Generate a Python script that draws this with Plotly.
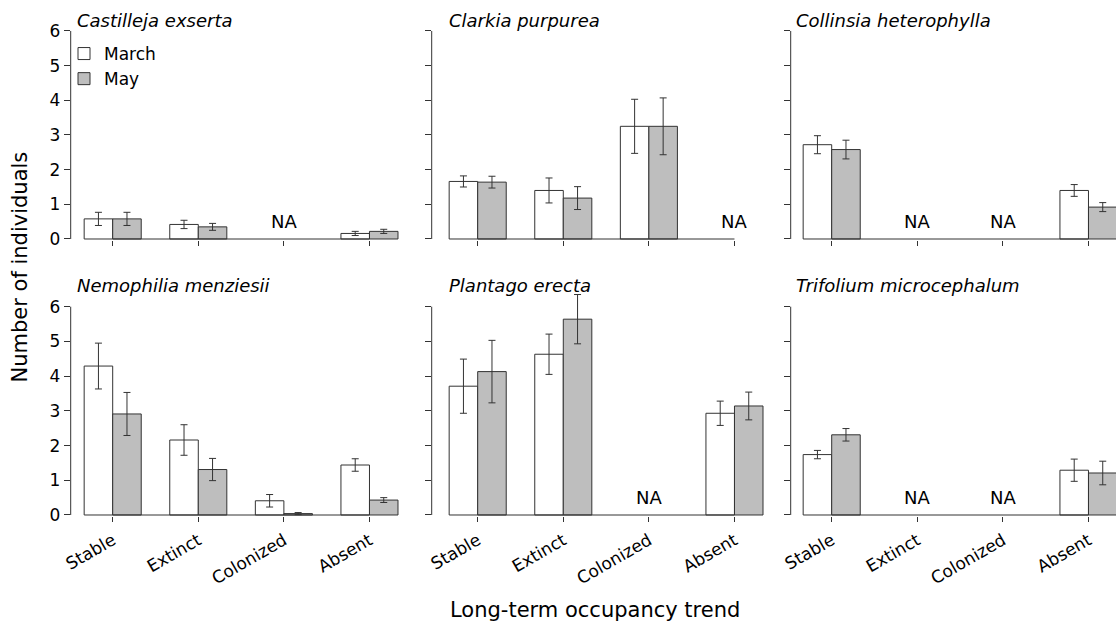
import plotly.graph_objects as go

W, H = 1116, 625
FONT = "DejaVu Sans"

categories = ["Stable", "Extinct", "Colonized", "Absent"]
species = ["Castilleja exserta", "Clarkia purpurea", "Collinsia heterophylla",
           "Nemophilia menziesii", "Plantago erecta", "Trifolium microcephalum"]

castilleja_march = [0.58, 0.42, None, 0.16]
castilleja_march_se = [0.19, 0.12, None, 0.06]
castilleja_may = [0.58, 0.35, None, 0.22]
castilleja_may_se = [0.19, 0.10, None, 0.06]

clarkia_march = [1.66, 1.40, 3.25, None]
clarkia_march_se = [0.16, 0.36, 0.78, None]
clarkia_may = [1.64, 1.18, 3.25, None]
clarkia_may_se = [0.17, 0.33, 0.82, None]

collinsia_march = [2.72, None, None, 1.40]
collinsia_march_se = [0.26, None, None, 0.17]
collinsia_may = [2.58, None, None, 0.92]
collinsia_may_se = [0.27, None, None, 0.13]

nemophilia_march = [4.29, 2.16, 0.41, 1.44]
nemophilia_march_se = [0.66, 0.44, 0.18, 0.18]
nemophilia_may = [2.91, 1.31, 0.04, 0.43]
nemophilia_may_se = [0.62, 0.32, 0.03, 0.07]

plantago_march = [3.71, 4.63, None, 2.93]
plantago_march_se = [0.78, 0.58, None, 0.35]
plantago_may = [4.13, 5.64, None, 3.14]
plantago_may_se = [0.90, 0.71, None, 0.40]

trifolium_march = [1.74, None, None, 1.29]
trifolium_march_se = [0.12, None, None, 0.32]
trifolium_may = [2.31, None, None, 1.21]
trifolium_may_se = [0.18, None, None, 0.34]

y_ticks = [0, 1, 2, 3, 4, 5, 6]

panels = [
    (castilleja_march, castilleja_march_se, castilleja_may, castilleja_may_se),
    (clarkia_march, clarkia_march_se, clarkia_may, clarkia_may_se),
    (collinsia_march, collinsia_march_se, collinsia_may, collinsia_may_se),
    (nemophilia_march, nemophilia_march_se, nemophilia_may, nemophilia_may_se),
    (plantago_march, plantago_march_se, plantago_may, plantago_may_se),
    (trifolium_march, trifolium_march_se, trifolium_may, trifolium_may_se),
]

# ---- geometry (pixels) ----
col_left = [70.7, 431.7, 790.7]
col_right = [411.0, 775.0, 1116.0]
col_first_tick = [112.7, 477.7, 831.7]
px_per_unit = 28.53
row_zero = [239.0, 515.0]
row_ppu = [34.67, 34.72]
YMIN, YMAX = -0.03, 6.6
title_x = [74.5, 446.5, 794.0]
title_y = [21.0, 285.0]

centers = [2 + 3 * i for i in range(len(categories))]
march_x = [c - 0.5 for c in centers]
may_x = [c + 0.5 for c in centers]

LINE = "#333333"
MAY_FILL = "#bebebe"

fig = go.Figure()
layout = dict(
    width=W, height=H, margin=dict(l=0, r=0, t=0, b=0, autoexpand=False),
    paper_bgcolor="white", plot_bgcolor="white",
    barmode="overlay", font=dict(family=FONT, color="black"),
    showlegend=True,
)
shapes = []
annotations = []

for k, (m, mse, y, yse) in enumerate(panels):
    r, c = divmod(k, 3)
    s = "" if k == 0 else str(k + 1)
    xa, ya = "x" + s, "y" + s
    r0 = 2 - (col_first_tick[c] - col_left[c]) / px_per_unit
    r1 = 2 + (col_right[c] - col_first_tick[c]) / px_per_unit
    ybot = row_zero[r] - YMIN * row_ppu[r]
    ytop = row_zero[r] - YMAX * row_ppu[r]

    for name, xs, vals, se, fill in (("March", march_x, m, mse, "white"),
                                     ("May", may_x, y, yse, MAY_FILL)):
        fig.add_trace(go.Bar(
            x=xs, y=vals, width=1, name=name, legendgroup=name,
            showlegend=(k == 0),
            marker=dict(color=fill, line=dict(color=LINE, width=1)),
            error_y=dict(type="data", array=se, visible=True, color=LINE,
                         thickness=1, width=3.5),
            xaxis=xa, yaxis=ya, hoverinfo="skip",
        ))

    layout["xaxis" + s] = dict(
        domain=[col_left[c] / W, col_right[c] / W], range=[r0, r1],
        anchor=ya, tickmode="array", tickvals=centers,
        ticktext=categories, showticklabels=(r == 1),
        ticks="outside", ticklen=5, tickwidth=1, tickcolor=LINE,
        tickangle=-30, ticklabelstandoff=2, automargin=False,
        tickfont=dict(family=FONT, size=17, color="black"),
        showgrid=False, zeroline=False, showline=False, fixedrange=True,
    )
    layout["yaxis" + s] = dict(
        domain=[1 - ybot / H, 1 - ytop / H], range=[YMIN, YMAX],
        anchor=xa, tickmode="array", tickvals=y_ticks, automargin=False,
        showticklabels=(c == 0), ticks="outside", ticklen=6, tickwidth=1,
        tickcolor=LINE, tickfont=dict(family=FONT, size=17, color="black"),
        showgrid=False, zeroline=False, showline=False, fixedrange=True,
    )

    yf0 = (0 - YMIN) / (YMAX - YMIN)
    yf6 = (y_ticks[-1] - YMIN) / (YMAX - YMIN)
    shapes.append(dict(type="line", xref=xa + " domain", yref=ya + " domain",
                       x0=0, x1=0, y0=yf0, y1=yf6,
                       line=dict(color=LINE, width=1)))
    shapes.append(dict(type="line", xref=xa + " domain", yref=ya + " domain",
                       x0=(centers[0] - r0) / (r1 - r0),
                       x1=(centers[-1] - r0) / (r1 - r0),
                       y0=yf0, y1=yf0, line=dict(color=LINE, width=1)))

    annotations.append(dict(text="<i>" + species[k] + "</i>", xref="paper",
                            yref="paper", x=title_x[c] / W,
                            y=1 - title_y[r] / H,
                            xanchor="left", yanchor="middle", showarrow=False,
                            font=dict(family=FONT, size=18, color="black")))

    for i, cx in enumerate(centers):
        if m[i] is None and y[i] is None:
            annotations.append(dict(text="NA", xref=xa, yref=ya, x=cx, y=0.5,
                                    xanchor="center", yanchor="middle",
                                    showarrow=False,
                                    font=dict(family=FONT, size=18,
                                              color="black")))

annotations.append(dict(text="Number of individuals", xref="paper", yref="paper",
                        x=20 / W, y=1 - 267.5 / H, textangle=-90,
                        xanchor="center", yanchor="middle", showarrow=False,
                        font=dict(family=FONT, size=21, color="black")))
annotations.append(dict(text="Long-term occupancy trend", xref="paper",
                        yref="paper", x=595 / W, y=1 - 610 / H,
                        xanchor="center", yanchor="middle", showarrow=False,
                        font=dict(family=FONT, size=21, color="black")))

layout["shapes"] = shapes
layout["annotations"] = annotations
layout["legend"] = dict(x=64 / W, y=1 - 36 / H, xanchor="left", yanchor="top",
                        bgcolor="rgba(0,0,0,0)", borderwidth=0,
                        font=dict(family=FONT, size=17, color="black"),
                        tracegroupgap=0, itemwidth=30)
fig.update_layout(**layout)
fig.write_html("out.html")
